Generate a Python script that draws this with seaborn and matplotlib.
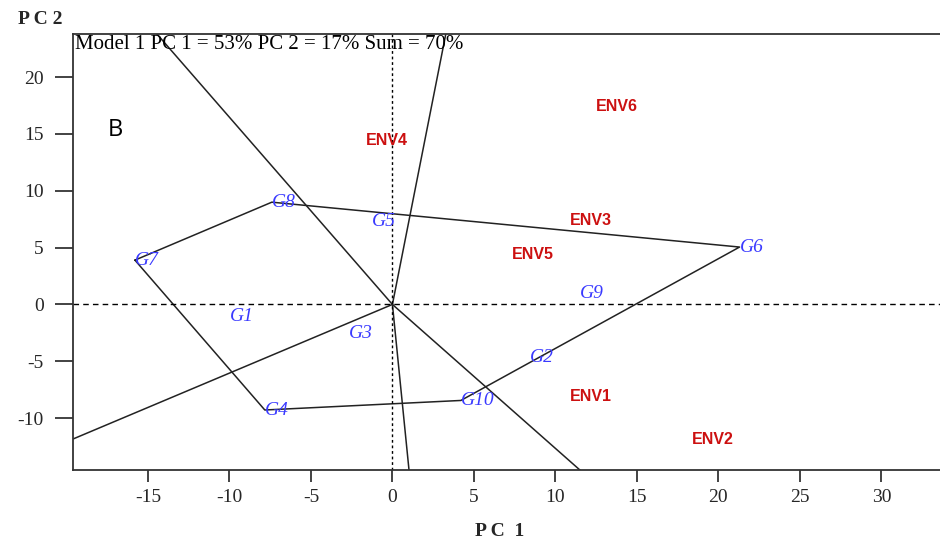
import numpy as np
import pandas as pd
import matplotlib
matplotlib.use("Agg")
import matplotlib.pyplot as plt
import seaborn as sns

# ---- data ----
genotypes = ["G1", "G2", "G3", "G4", "G5", "G6", "G7", "G8", "G9", "G10"]
geno_pc1 = [-9.98, 8.42, -2.68, -7.83, -1.27, 21.3, -15.8, -7.4, 11.5, 4.2]
geno_pc2 = [-1.02, -4.71, -2.52, -9.29, 7.29, 5.05, 3.9, 9.0, 1.0, -8.45]

environments = ["ENV1", "ENV2", "ENV3", "ENV4", "ENV5", "ENV6"]
env_pc1 = [10.9, 18.4, 10.9, -1.6, 7.3, 12.5]
env_pc2 = [-8.1, -11.9, 7.4, 14.4, 4.4, 17.4]

hull_order = ["G7", "G8", "G6", "G10", "G4"]
x_ticks = [-15, -10, -5, 0, 5, 10, 15, 20, 25, 30]
y_ticks = [-10, -5, 0, 5, 10, 15, 20]
title_text = "Model 1 PC 1 = 53% PC 2 = 17% Sum = 70%"

# ---- figure ----
sns.set_style("ticks")
plt.rcParams["font.family"] = ["Liberation Serif", "DejaVu Serif"]
plt.rcParams["axes.unicode_minus"] = False

fig = plt.figure(figsize=(9.4, 5.44), dpi=100)
ax = fig.add_axes([73 / 940, 1 - 470 / 544, (940 - 73) / 940, (470 - 34) / 544])

geno = pd.DataFrame({"name": genotypes, "PC1": geno_pc1, "PC2": geno_pc2})
gmap = geno.set_index("name")

# polygon
poly = gmap.loc[hull_order + [hull_order[0]]].reset_index()
sns.lineplot(data=poly, x="PC1", y="PC2", sort=False, estimator=None,
             color="#222222", lw=1.1, ax=ax)

# rays perpendicular to polygon sides
pts = gmap.loc[hull_order][["PC1", "PC2"]].to_numpy()
for i in range(len(pts)):
    a = pts[i]
    b = pts[(i + 1) % len(pts)]
    d = b - a
    n = np.array([-d[1], d[0]])
    if np.dot(n, a) < 0:
        n = -n
    n = n / np.linalg.norm(n)
    ray = pd.DataFrame({"PC1": [0, n[0] * 200], "PC2": [0, n[1] * 200]})
    sns.lineplot(data=ray, x="PC1", y="PC2", sort=False, estimator=None,
                 color="#222222", lw=1.1, ax=ax)

# dashed axes lines
ax.axhline(0, color="black", lw=1.0, ls=(0, (4, 3)))
ax.axvline(0, color="black", lw=1.0, ls=(0, (2, 2)))

# genotype labels
for name, x, y in zip(genotypes, geno_pc1, geno_pc2):
    ax.text(x, y, name, color="#3a3aff", fontsize=14, fontstyle="italic",
            ha="left", va="center", family=["Liberation Serif"])

# environment labels
for name, x, y in zip(environments, env_pc1, env_pc2):
    ax.text(x, y, name, color="#cc1010", fontsize=11.5, fontweight="bold",
            ha="left", va="center", family=["Liberation Sans"])

ax.set_xlim(-19.6, 33.6)
ax.set_ylim(-14.57, 23.8)
ax.set_xticks(x_ticks)
ax.set_yticks(y_ticks)
ax.set_xlabel("")
ax.set_ylabel("")
ax.tick_params(axis="both", direction="out", width=1.2, labelsize=14,
               color="#222222")
ax.tick_params(axis="y", length=13, pad=8)
ax.tick_params(axis="x", length=8.5, pad=5)
for s in ["left", "bottom", "top"]:
    ax.spines[s].set_visible(True)
    ax.spines[s].set_linewidth(1.3)
    ax.spines[s].set_color("#333333")
ax.spines["right"].set_visible(False)

ax.text(0.002, 0.997, title_text, transform=ax.transAxes, ha="left", va="top",
        fontsize=15, color="black")
fig.text(108 / 940, 1 - 130 / 544, "B", fontsize=17, ha="left", va="center",
         family=["Open Sans"], color="black")

fig.text(40 / 940, 1 - 20 / 544, "P C 2", fontsize=14, fontweight="bold",
         ha="center", va="center")
fig.text(500 / 940, 1 - 532 / 544, "P C  1", fontsize=14, fontweight="bold",
         ha="center", va="center")

fig.savefig("out.png", dpi=100)
